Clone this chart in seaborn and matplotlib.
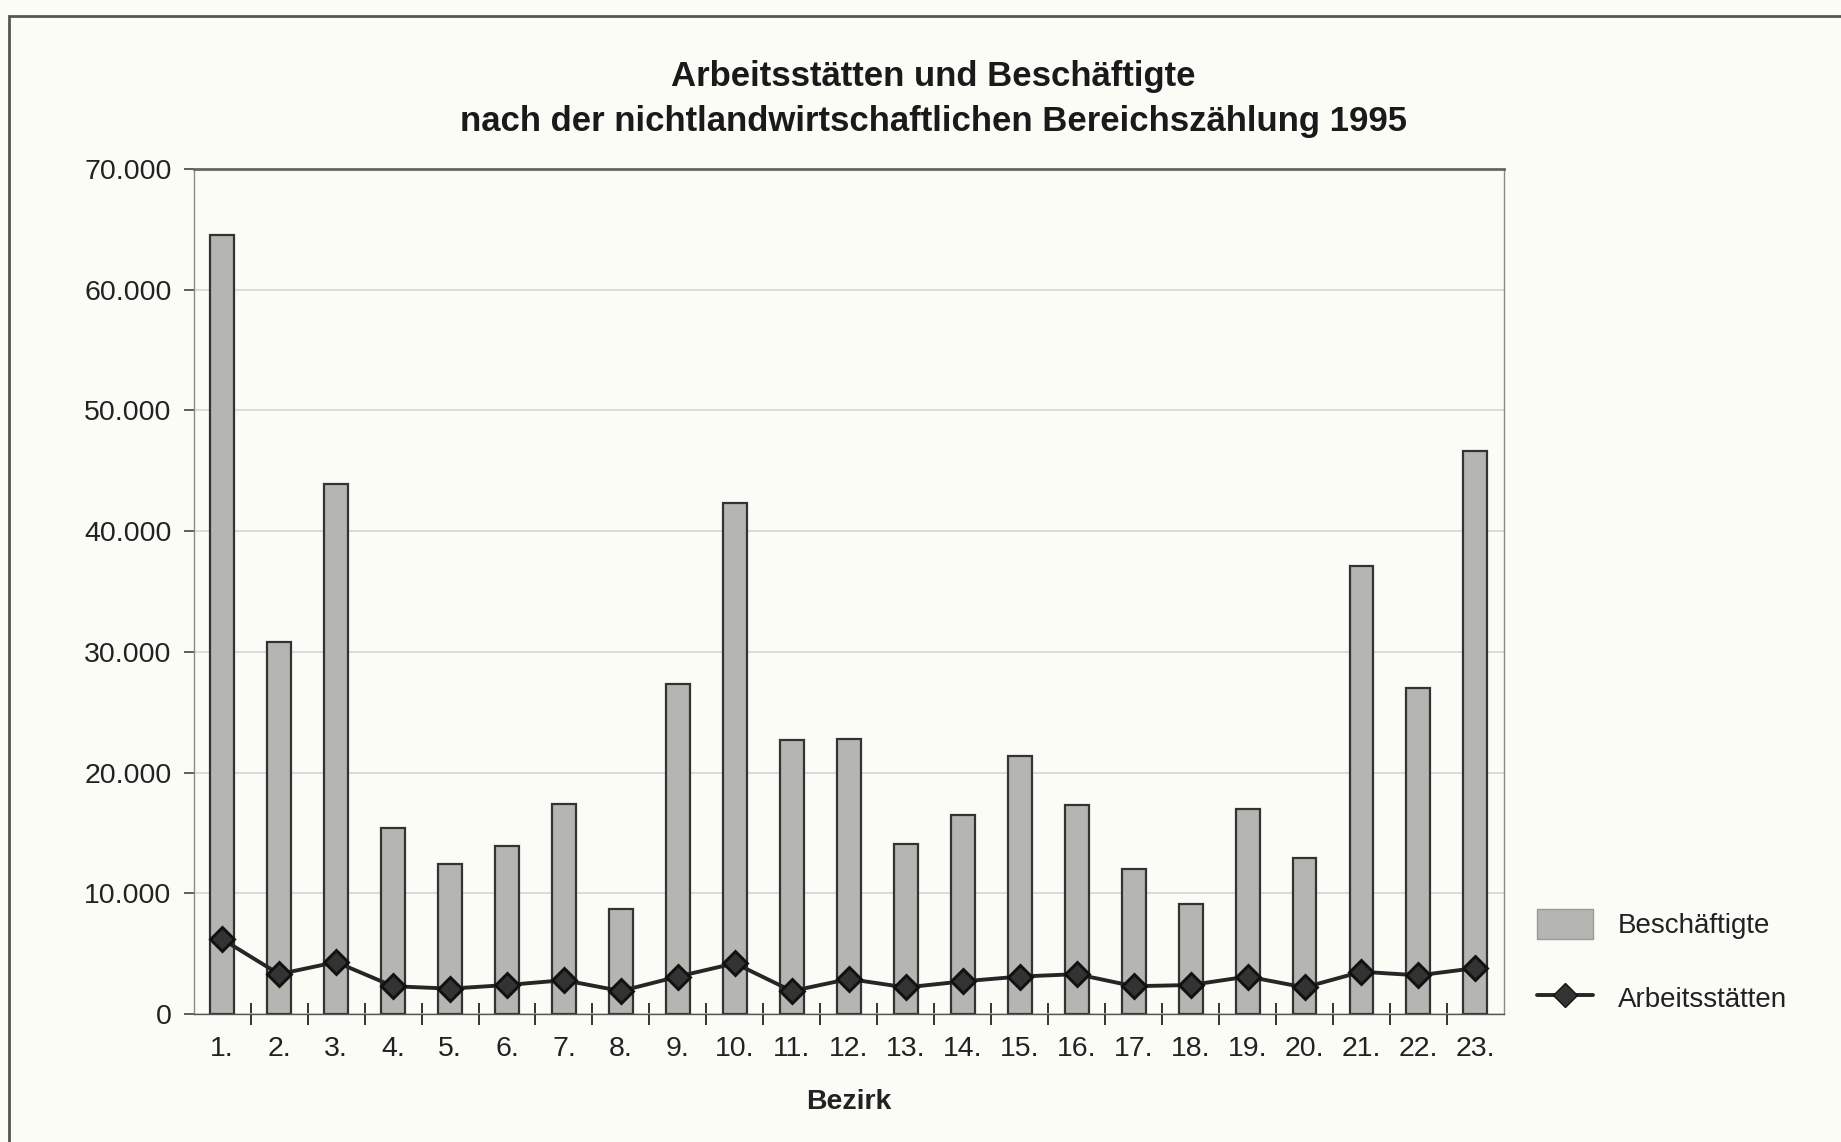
import numpy as np
import pandas as pd
import matplotlib
matplotlib.use("Agg")
import matplotlib.pyplot as plt
import seaborn as sns
from matplotlib.patches import Patch, Rectangle
from matplotlib.lines import Line2D
from matplotlib.ticker import FixedLocator, FuncFormatter

bezirke = [f"{i}." for i in range(1, 24)]
beschaeftigte = [64500, 30800, 43900, 15400, 12400, 13900, 17400, 8700, 27300, 42300,
                 22700, 22800, 14100, 16500, 21400, 17300, 12000, 9100, 17000, 12900,
                 37100, 27000, 46600]
arbeitsstaetten = [6200, 3300, 4300, 2300, 2100, 2400, 2800, 1900, 3100, 4200,
                   1900, 2900, 2200, 2700, 3100, 3300, 2300, 2400, 3100, 2200,
                   3500, 3200, 3800]
y_ticks = [0, 10000, 20000, 30000, 40000, 50000, 60000, 70000]

df = pd.DataFrame({"Bezirk": bezirke, "Beschäftigte": beschaeftigte,
                   "Arbeitsstätten": arbeitsstaetten})

sns.set_theme(style="white")
plt.rcParams["font.family"] = ["Liberation Sans", "DejaVu Sans"]

BG = "#fcfcf7"
BAR = "#b5b5b1"
DARK = "#262626"

fig = plt.figure(figsize=(18.41, 11.42), dpi=100, facecolor=BG)
ax = fig.add_axes([0.1052, 0.1121, 0.7117, 0.7399])
ax.set_facecolor(BG)

sns.barplot(data=df, x="Bezirk", y="Beschäftigte", color=BAR, width=0.42,
            edgecolor="#333333", linewidth=1.6, saturation=1, ax=ax, zorder=2)
sns.pointplot(data=df, x="Bezirk", y="Arbeitsstätten", color=DARK, markers="D",
              markersize=12.5, linewidth=2.8, errorbar=None, ax=ax, zorder=3)
for ln in ax.lines:
    ln.set_markeredgecolor("#111111")
    ln.set_markerfacecolor("#333333")

ax.set_ylim(0, 70000)
ax.set_xlim(-0.5, len(bezirke) - 0.5)
ax.yaxis.set_major_locator(FixedLocator(y_ticks))
ax.yaxis.set_major_formatter(FuncFormatter(lambda v, p: f"{int(v):,}".replace(",", ".")))
ax.grid(axis="y", color="#d2d2d0", linewidth=1.1, zorder=0)
ax.set_axisbelow(True)

ax.tick_params(axis="y", which="major", direction="out", length=7, width=1.2,
               color="#444444", labelsize=20.5, labelcolor="#222222", pad=9, left=True)
ax.tick_params(axis="x", which="major", length=0, labelsize=20.5, labelcolor="#222222", pad=16)
ax.xaxis.set_minor_locator(FixedLocator(np.arange(0.5, len(bezirke) - 1, 1.0)))
ax.tick_params(axis="x", which="minor", direction="inout", length=16, width=1.4,
               color="#333333", bottom=True)

for s in ["left", "right", "bottom"]:
    ax.spines[s].set_color("#8a8a8a")
    ax.spines[s].set_linewidth(1.0)
ax.spines["bottom"].set_color("#555555")
ax.spines["top"].set_color("#666666")
ax.spines["top"].set_linewidth(2.0)

ax.set_ylabel("")
ax.set_xlabel("Bezirk", fontsize=20.5, fontweight="bold", color="#222222", labelpad=19)

fig.text(0.507, 0.933, "Arbeitsstätten und Beschäftigte", ha="center", va="center",
         fontsize=25, fontweight="bold", color="#1a1a1a")
fig.text(0.507, 0.894, "nach der nichtlandwirtschaftlichen Bereichszählung 1995",
         ha="center", va="center", fontsize=25, fontweight="bold", color="#1a1a1a")

handles = [Patch(facecolor=BAR, edgecolor="#9a9a9a", linewidth=1.0),
           Line2D([0], [0], color=DARK, marker="D", markersize=12.5, linewidth=2.8,
                  markerfacecolor="#333333", markeredgecolor="#111111")]
fig.legend(handles, ["Beschäftigte", "Arbeitsstätten"], loc="upper left",
           bbox_to_anchor=(0.835, 0.204), frameon=False, fontsize=20,
           handlelength=2.0, handleheight=1.3, labelspacing=1.55, handletextpad=0.9,
           borderpad=0, borderaxespad=0, labelcolor="#222222")

fig.patches.append(Rectangle((0.005, -0.01), 1.1, 0.996, transform=fig.transFigure,
                             fill=False, edgecolor="#555555", linewidth=2.0))

fig.savefig("out.png", dpi=100, facecolor=BG)
